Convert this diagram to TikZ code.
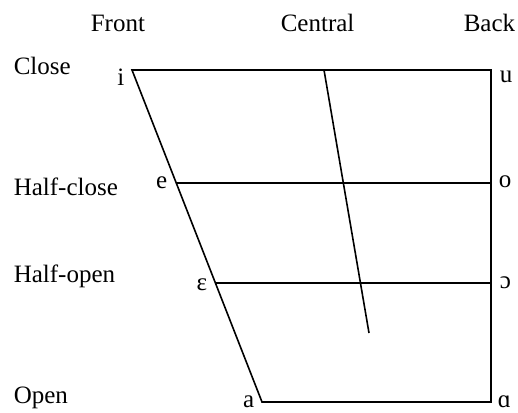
\documentclass[tikz,border=0pt]{standalone}
\usepackage{fontspec}
\setmainfont{Liberation Serif}

\begin{document}
\begin{tikzpicture}[x=1pt,y=-1pt,line width=1.6pt,font=\fontsize{25}{30}\selectfont,
        txt/.style={inner sep=0pt,anchor=base west},
        vl/.style={inner sep=0pt,anchor=base east},
        vr/.style={inner sep=0pt,anchor=base west}]
        \useasboundingbox (0,0) rectangle (518,412);
        % corners of the chart
        \coordinate (i) at (132,70); \coordinate (u) at (491,70);
        \coordinate (e) at (177,183); \coordinate (o) at (491,183);
        \coordinate (E) at (216,283); \coordinate (O) at (491,283);
        \coordinate (a) at (262,402); \coordinate (A) at (491,402);
        \coordinate (ctop) at (324,70); \coordinate (cbot) at (369,333);
        \draw (i)--(u)--(A)--(a)--cycle;
        \draw (e)--(o); \draw (E)--(O); \draw (ctop)--(cbot);
        % column and row labels
        \node[txt] (front) at (90,32) {Front};
        \node[txt] (central) at (280,32) {Central};
        \node[txt] (back) at (463,32) {Back};
        \foreach \t/\y/\n in {Close/74/close,Half-close/195/hclose,Half-open/282/hopen,Open/403/open}
            \node[txt] (\n) at (13,\y) {\t};
        % vowel symbols
        \node[vl] (li) at (125,85) {i};   \node[vr] (lu) at (499,82) {u};
        \node[vl] (le) at (168,188) {e};  \node[vr] (lo) at (498,187) {o};
        \node[vl] (lE) at (208,290) {ɛ};  \node[vr] (lO) at (499,288) {ɔ};
        \node[vl] (la) at (255,407) {a};  \node[vr] (lA) at (497,407) {ɑ};
    \end{tikzpicture}
\end{document}
